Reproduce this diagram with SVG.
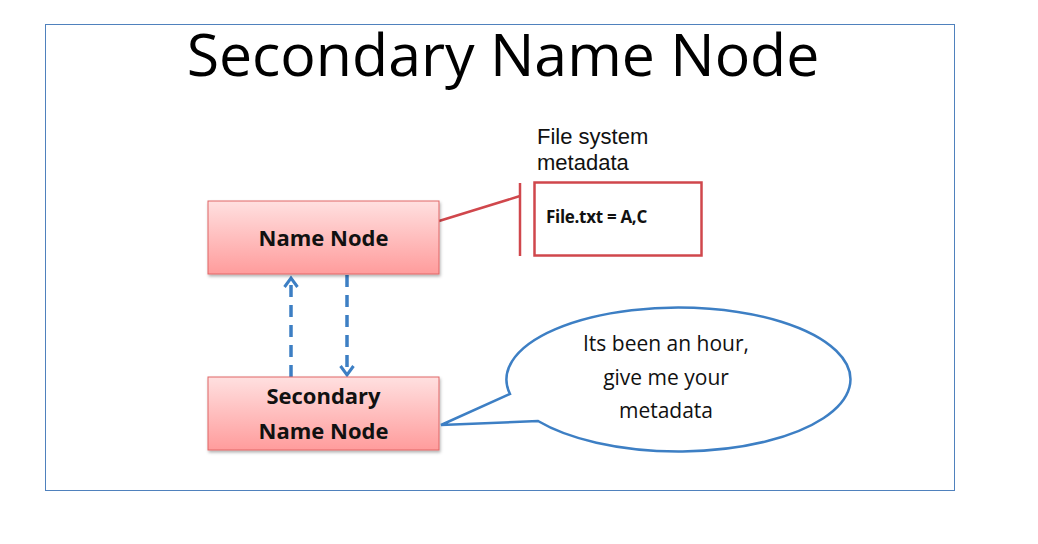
<svg xmlns="http://www.w3.org/2000/svg" width="1038" height="544" viewBox="0 0 1038 544">
<defs>
<linearGradient id="pink" x1="0" y1="0" x2="0" y2="1">
<stop offset="0" stop-color="#ffe0e0"/>
<stop offset="1" stop-color="#ff9c9c"/>
</linearGradient>
<filter id="sh" x="-10%" y="-10%" width="130%" height="140%">
<feDropShadow dx="1" dy="2" stdDeviation="1.5" flood-color="#000" flood-opacity="0.3"/>
</filter>
<marker id="ah" viewBox="0 0 16 16" refX="13" refY="8" markerWidth="16" markerHeight="16" markerUnits="userSpaceOnUse" orient="auto">
<path d="M4,1.5 L13,8 L4,14.5" fill="none" stroke="#3d7fc4" stroke-width="3"/>
</marker>
<style>
.node{fill:url(#pink);stroke:#e06666;stroke-width:1;filter:url(#sh)}
.lbl{font-family:"Open Sans","Liberation Sans",sans-serif;font-weight:bold;font-size:22px;fill:#111;text-anchor:middle}
.txt{font-family:"Open Sans","Liberation Sans",sans-serif;font-size:21px;fill:#111}
.dash{stroke:#3d7fc4;stroke-width:3.5;stroke-dasharray:12,8;fill:none}
</style>
</defs>
<rect width="1038" height="544" fill="#fff"/>
<rect x="45.5" y="24.5" width="909" height="466" fill="none" stroke="#4f81bd" stroke-width="1"/>
<text x="503" y="76" font-family="Open Sans, Liberation Sans, sans-serif" font-size="59" fill="#000" text-anchor="middle">Secondary Name Node</text>

<g id="connectors">
<line x1="439" y1="221" x2="520" y2="196" stroke="#d0474c" stroke-width="2.5"/>
<line x1="520" y1="183" x2="520" y2="256" stroke="#d0474c" stroke-width="2.5"/>
<line class="dash" x1="291" y1="377" x2="291" y2="278" marker-end="url(#ah)"/>
<line class="dash" x1="347" y1="275" x2="347" y2="375" marker-end="url(#ah)"/>
</g>

<g id="namenode">
<rect class="node" x="208" y="201" width="231" height="73"/>
<text class="lbl" x="323.5" y="246">Name Node</text>
</g>

<g id="secondary">
<rect class="node" x="208" y="377" width="231" height="73"/>
<text class="lbl" x="323.5" y="404">Secondary</text>
<text class="lbl" x="323.5" y="439">Name Node</text>
</g>

<g id="metadata">
<rect x="534.5" y="182.5" width="167" height="73" fill="#fff" stroke="#d0474c" stroke-width="2.5"/>
<text x="546" y="223" font-family="Open Sans, Liberation Sans, sans-serif" font-weight="bold" font-size="17" letter-spacing="-0.3" fill="#111">File.txt = A,C</text>
<text font-family="Liberation Sans, Arial, sans-serif" font-size="22" fill="#111"><tspan x="537" y="144">File system</tspan><tspan x="537" y="170">metadata</tspan></text>
</g>

<g id="callout">
<path d="M510,394 A172,72 0 1 1 538,421 L441,425 Z" fill="#fff" stroke="#3d7fc4" stroke-width="2.5" stroke-linejoin="miter"/>
<text class="txt" x="666" y="351" text-anchor="middle">Its been an hour,</text>
<text class="txt" x="666" y="385" text-anchor="middle">give me your</text>
<text class="txt" x="666" y="418" text-anchor="middle">metadata</text>
</g>
</svg>
